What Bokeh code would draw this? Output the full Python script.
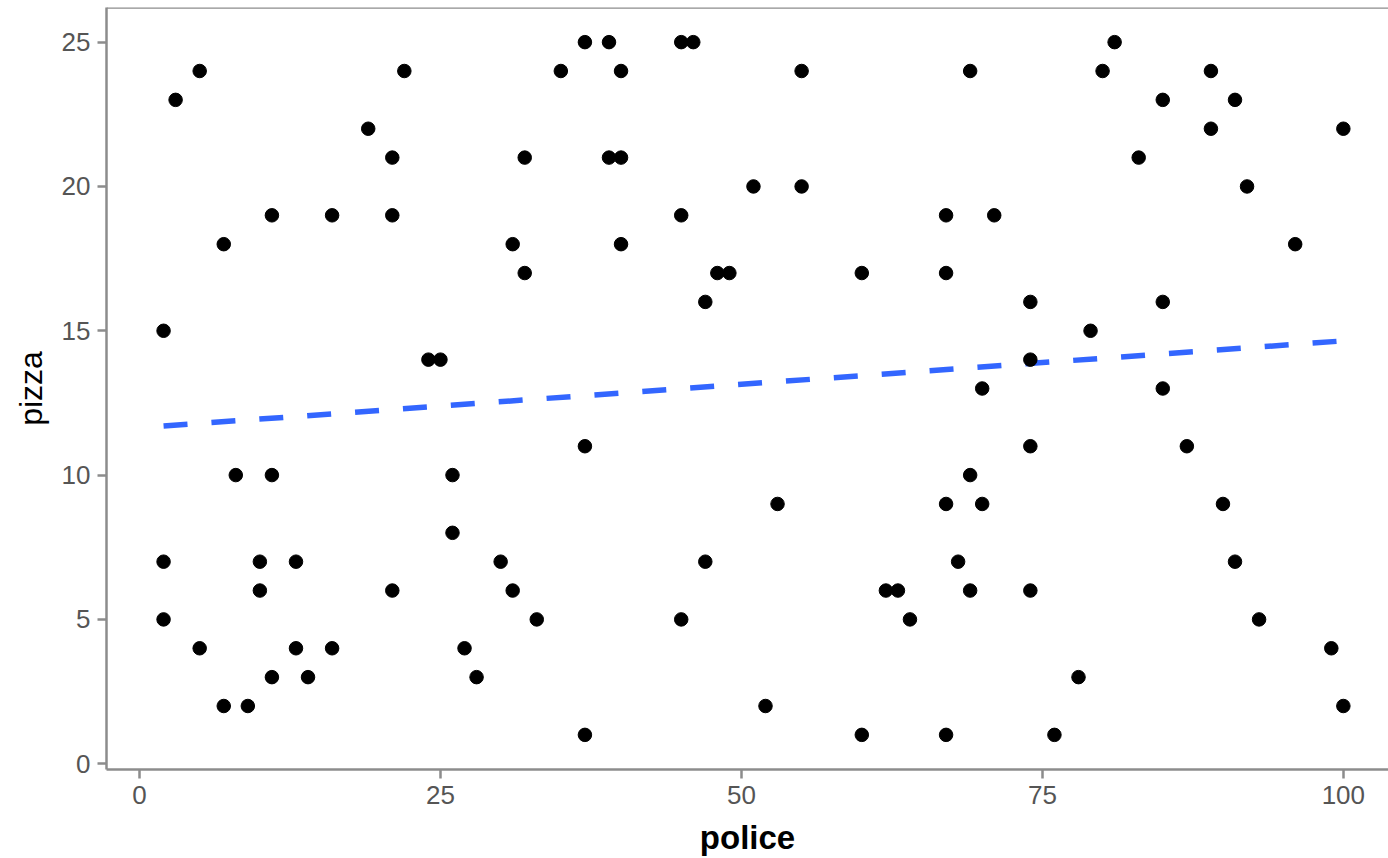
from bokeh.plotting import figure
from bokeh.models import Range1d, FixedTicker, Span
from bokeh.embed import file_html
from bokeh.resources import INLINE

police = [2, 3, 5, 7, 2, 2, 5, 7, 8, 9, 10, 10, 11, 11, 11, 13, 13, 14, 16, 16,
          19, 21, 21, 21, 22, 24, 25, 26, 26, 27, 28, 30, 31, 31, 32, 32, 33, 35,
          37, 37, 37, 39, 39, 40, 40, 40, 45, 46, 45, 45, 47, 47, 48, 49, 51, 52,
          53, 55, 55, 60, 60, 62, 63, 64, 67, 67, 67, 67, 68, 69, 69, 69, 70, 70,
          71, 74, 74, 74, 74, 76, 78, 79, 80, 81, 83, 85, 85, 85, 87, 89, 89, 90,
          91, 91, 92, 93, 96, 99, 100, 100]
pizza = [15, 23, 24, 18, 7, 5, 4, 2, 10, 2, 7, 6, 19, 10, 3, 7, 4, 3, 19, 4,
         22, 21, 19, 6, 24, 14, 14, 10, 8, 4, 3, 7, 18, 6, 21, 17, 5, 24,
         25, 11, 1, 25, 21, 24, 21, 18, 25, 25, 19, 5, 16, 7, 17, 17, 20, 2,
         9, 24, 20, 17, 1, 6, 6, 5, 19, 17, 9, 1, 7, 24, 10, 6, 13, 9,
         19, 16, 14, 11, 6, 1, 3, 15, 24, 25, 21, 23, 16, 13, 11, 24, 22, 9,
         23, 7, 20, 5, 18, 4, 22, 2]

fit_police = [2, 100]
fit_pizza = [11.70, 14.65]

x_ticks = [0, 25, 50, 75, 100]
y_ticks = [0, 5, 10, 15, 20, 25]

GREY = "#8c8c8c"
Y_TOP = 26.2

p = figure(width=1388, height=858, output_backend="svg", toolbar_location=None,
           x_range=Range1d(-2.74, 103.75), y_range=Range1d(-0.2, Y_TOP),
           min_border_left=106, min_border_right=0, min_border_top=7,
           min_border_bottom=88)
p.background_fill_color = "white"
p.border_fill_color = "white"
p.outline_line_color = None
p.xgrid.visible = False
p.ygrid.visible = False

p.add_layout(Span(location=Y_TOP, dimension="width", line_color=GREY,
                  line_width=2.5))

p.line(fit_police, fit_pizza, line_color="#3366FF", line_width=5.5,
       line_dash="24 24", line_cap="butt")
p.scatter(police, pizza, size=13.5, fill_color="black", line_color="black")

xax = p.below[0]
yax = p.left[0]
for ax, ticks in ((xax, x_ticks), (yax, y_ticks)):
    ax.ticker = FixedTicker(ticks=ticks)
    ax.axis_line_color = GREY
    ax.axis_line_width = 2.5
    ax.major_tick_line_color = GREY
    ax.major_tick_line_width = 2.5
    ax.major_tick_out = 9
    ax.major_tick_in = 0
    ax.minor_tick_line_color = None
    ax.major_label_text_font = "Liberation Sans"
    ax.major_label_text_font_size = "26px"
    ax.major_label_text_color = "#555555"
    ax.major_label_standoff = 7
    ax.axis_label_text_font = "Liberation Sans"
    ax.axis_label_text_color = "black"

xax.axis_label = "police"
xax.axis_label_text_font_style = "bold"
xax.axis_label_text_font_size = "33px"
xax.axis_label_standoff = 12
yax.axis_label = "pizza"
yax.axis_label_text_font_style = "normal"
yax.axis_label_text_font_size = "32px"
yax.axis_label_standoff = 10

open("out.html", "w").write(file_html(p, INLINE))
